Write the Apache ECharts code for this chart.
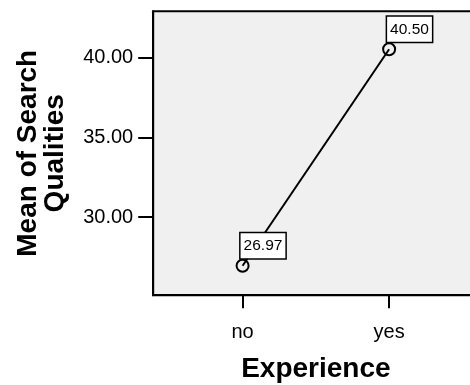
<!DOCTYPE html>
<html>
<head>
<meta charset="utf-8">
<script src="https://cdn.jsdelivr.net/npm/echarts@6/dist/echarts.min.js"></script>
<style>
html,body{margin:0;padding:0;background:#fff;}
#c{width:470px;height:385px;}
</style>
</head>
<body>
<div id="c"></div>
<script>
const categories = ['no', 'yes'];
const means = [26.97, 40.50];
const yTicks = [30, 35, 40];
const xTitle = 'Experience';
const yTitle = 'Mean of Search\nQualities';

const FONT = '"Liberation Sans", Arial, sans-serif';
const chart = echarts.init(document.getElementById('c'), null, {renderer: 'canvas'});
chart.setOption({
  animation: false,
  backgroundColor: '#ffffff',
  grid: {
    left: 153.2, top: 11.3, width: 325.3, height: 283.9,
    outerBoundsMode: 'none', containLabel: false,
    show: true, backgroundColor: '#f0f0f0', borderColor: '#000', borderWidth: 2
  },
  xAxis: {
    type: 'value', min: -0.61, max: 1.61,
    splitLine: {show: false},
    axisLine: {show: true, onZero: false, lineStyle: {color: '#000', width: 2}},
    axisTick: {show: true, customValues: categories.map((c, i) => i), length: 13, lineStyle: {color: '#000', width: 2}},
    axisLabel: {
      customValues: categories.map((c, i) => i),
      formatter: v => categories[Math.round(v)],
      fontSize: 20, color: '#000', fontFamily: FONT, margin: 27
    },
    name: xTitle, nameLocation: 'middle', nameGap: 60,
    nameTextStyle: {fontSize: 28, fontWeight: 'bold', color: '#000', fontFamily: FONT}
  },
  yAxis: {
    type: 'value', min: 25.125, max: 42.875,
    splitLine: {show: false},
    axisLine: {show: true, onZero: false, lineStyle: {color: '#000', width: 2}},
    axisTick: {show: true, customValues: yTicks, length: 15, lineStyle: {color: '#000', width: 2}},
    axisLabel: {
      customValues: yTicks,
      formatter: v => v.toFixed(2),
      fontSize: 20, color: '#000', fontFamily: FONT, margin: 20
    },
    name: yTitle, nameLocation: 'middle', nameRotate: 90, nameGap: 84,
    nameTextStyle: {fontSize: 28, fontWeight: 'bold', color: '#000', fontFamily: FONT, lineHeight: 27}
  },
  series: [{
    type: 'line',
    data: means.map((v, i) => [i, v]),
    symbol: 'circle', symbolSize: 12,
    itemStyle: {color: 'rgba(0,0,0,0)', borderColor: '#000', borderWidth: 2},
    lineStyle: {color: '#000', width: 2},
    label: {
      show: true, position: 'top', distance: 0.5, align: 'left', offset: [-2, 0],
      formatter: p => p.value[1].toFixed(2),
      fontSize: 15.5, color: '#000', fontFamily: FONT,
      backgroundColor: '#fff', borderColor: '#000', borderWidth: 1.5,
      padding: [5, 3, 4, 3]
    }
  }]
});
</script>
</body>
</html>
